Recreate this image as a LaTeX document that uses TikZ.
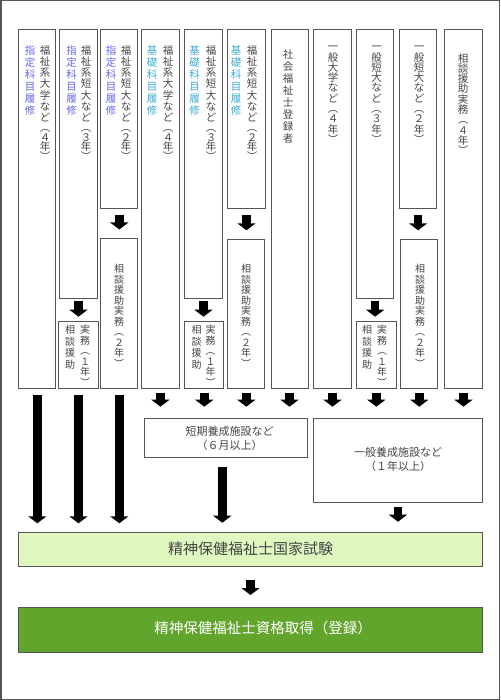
\documentclass[tikz,border=0pt]{standalone}
\usepackage{fontspec}
\setmainfont{Noto Sans CJK JP}
\usetikzlibrary{arrows.meta,calc}
\definecolor{txt}{HTML}{454545}
\definecolor{boxc}{HTML}{555555}
\definecolor{shitei}{HTML}{6868F0}
\definecolor{kiso}{HTML}{3DACD0}
\definecolor{lgreen}{HTML}{E0F8C0}
\definecolor{dgreen}{HTML}{62A52C}
\begin{document}
\begin{tikzpicture}[x=1pt,y=-1pt,
  box/.style={draw=boxc, line width=1pt, fill=white, inner sep=0pt, anchor=north west},
  vt/.style={align=center, inner sep=0pt, anchor=north, text=txt, font=\fontsize{10.5}{11.3}\selectfont},
  vtb/.style={vt, font=\fontsize{10.5}{12}\selectfont},
  vtg/.style={vt, font=\fontsize{10.5}{10.3}\selectfont},
  vts/.style={vt, font=\fontsize{10}{10.5}\selectfont},
  vtw/.style={vt, font=\fontsize{10}{11.5}\selectfont},
  ht/.style={align=center, inner sep=0pt, text=txt, font=\fontsize{11}{13.3}\selectfont},
  blk/.style={line width=8.5pt, black, -{Triangle[width=18pt,length=7pt]}}
]
\useasboundingbox (0,0) rectangle (500,700);
\draw[boxc, line width=1.5pt] (0.75,0.75) rectangle (499.25,699.25);

% columns
\node[box, minimum width=37pt, minimum height=358.7pt] (c1) at (18.3,29.3) {};
\node[box, minimum width=37.4pt, minimum height=269pt] (c2) at (59.3,29.3) {};
\node[box, minimum width=39.4pt, minimum height=67pt] (c2b) at (58.3,321) {};
\node[box, minimum width=37pt, minimum height=179pt] (c3) at (100.3,29.3) {};
\node[box, minimum width=37pt, minimum height=149.3pt] (c3b) at (100.3,238.5) {};
\node[box, minimum width=37.2pt, minimum height=358.7pt] (c4) at (141.3,29.3) {};
\node[box, minimum width=37.4pt, minimum height=269pt] (c5) at (184.3,29.3) {};
\node[box, minimum width=39pt, minimum height=67pt] (c5b) at (184.3,321) {};
\node[box, minimum width=37.4pt, minimum height=179pt] (c6) at (227.3,29.3) {};
\node[box, minimum width=37pt, minimum height=148.7pt] (c6b) at (227.3,239.3) {};
\node[box, minimum width=37pt, minimum height=358.7pt] (c7) at (270.5,29.3) {};
\node[box, minimum width=37.4pt, minimum height=358.7pt] (c8) at (313.3,29.3) {};
\node[box, minimum width=37.3pt, minimum height=269pt] (c9) at (356,29.3) {};
\node[box, minimum width=39.7pt, minimum height=67pt] (c9b) at (356,321) {};
\node[box, minimum width=37.3pt, minimum height=179pt] (c10) at (399,29.3) {};
\node[box, minimum width=37pt, minimum height=148.7pt] (c10b) at (400.3,239.3) {};
\node[box, minimum width=37.5pt, minimum height=358.7pt] (c11) at (444.2,29.3) {};

\node[box, minimum width=163pt, minimum height=39pt] (tanki) at (144.3,418.3) {};
\node[box, minimum width=168.4pt, minimum height=83.4pt] (ippan) at (313.3,418.3) {};
\node[box, fill=lgreen, minimum width=463.4pt, minimum height=34pt] (g1) at (18.3,532.3) {};
\node[box, fill=dgreen, minimum width=463.4pt, minimum height=45pt] (g2) at (18.3,607.3) {};

% vertical texts, upper
\node[vt] (t1a) at (45,45) {福\\祉\\系\\大\\学\\な\\ど\\[-1.6pt]︵\\[-1.6pt]４\\[-1.6pt]年\\[-1.6pt]︶};
\node[vtb, text=shitei] (t1b) at (30,45) {指\\定\\科\\目\\履\\修};
\node[vt] (t2a) at (86,45) {福\\祉\\系\\短\\大\\な\\ど\\[-1.6pt]︵\\[-1.6pt]３\\[-1.6pt]年\\[-1.6pt]︶};
\node[vtb, text=shitei] (t2b) at (71.5,45) {指\\定\\科\\目\\履\\修};
\node[vt] (t3a) at (126,45) {福\\祉\\系\\短\\大\\な\\ど\\[-1.6pt]︵\\[-1.6pt]２\\[-1.6pt]年\\[-1.6pt]︶};
\node[vtb, text=shitei] (t3b) at (111,45) {指\\定\\科\\目\\履\\修};
\node[vt] (t4a) at (168,45) {福\\祉\\系\\大\\学\\な\\ど\\[-1.6pt]︵\\[-1.6pt]４\\[-1.6pt]年\\[-1.6pt]︶};
\node[vtb, text=kiso] (t4b) at (152,45) {基\\礎\\科\\目\\履\\修};
\node[vt] (t5a) at (211,45) {福\\祉\\系\\短\\大\\な\\ど\\[-1.6pt]︵\\[-1.6pt]３\\[-1.6pt]年\\[-1.6pt]︶};
\node[vtb, text=kiso] (t5b) at (194.5,45) {基\\礎\\科\\目\\履\\修};
\node[vt] (t6a) at (252,45) {福\\祉\\系\\短\\大\\な\\ど\\[-1.6pt]︵\\[-1.6pt]２\\[-1.6pt]年\\[-1.6pt]︶};
\node[vtb, text=kiso] (t6b) at (236,45) {基\\礎\\科\\目\\履\\修};
\node[vt, font=\fontsize{10.5}{12}\selectfont] (t7) at (288,49) {社\\会\\福\\祉\\士\\登\\録\\者};
\node[vtg] (t8) at (333,46) {一\\般\\大\\学\\な\\ど\\︵\\４\\年\\︶};
\node[vtg] (t9) at (376.5,46) {一\\般\\短\\大\\な\\ど\\︵\\３\\年\\︶};
\node[vtg] (t10) at (419,46) {一\\般\\短\\大\\な\\ど\\︵\\２\\年\\︶};
\node[vtg] (t11) at (463,53) {相\\談\\援\\助\\実\\務\\︵\\４\\年\\︶};

% vertical texts, lower
\node[vts] (t2c) at (85,325) {実\\務\\︵\\１\\年\\︶};
\node[vtw] (t2d) at (70,325) {相\\談\\援\\助};
\node[vts] (t3c) at (119,264) {相\\談\\援\\助\\実\\務\\︵\\２\\年\\︶};
\node[vts] (t5c) at (210.5,325) {実\\務\\︵\\１\\年\\︶};
\node[vtw] (t5d) at (196.5,325) {相\\談\\援\\助};
\node[vts] (t6c) at (246,264) {相\\談\\援\\助\\実\\務\\︵\\２\\年\\︶};
\node[vts] (t9c) at (382,325) {実\\務\\︵\\１\\年\\︶};
\node[vtw] (t9d) at (367,325) {相\\談\\援\\助};
\node[vts] (t10c) at (420,264) {相\\談\\援\\助\\実\\務\\︵\\２\\年\\︶};

% horizontal texts
\node[ht] (tt) at (229.5,438.5) {短期養成施設など\\（６月以上）};
\node[ht] (ti) at (398,459.5) {一般養成施設など\\（１年以上）};
\node[inner sep=0pt, text=txt, font=\fontsize{15}{15}\selectfont] (tg1) at (250.5,549.3) {精神保健福祉士国家試験};
\node[inner sep=0pt, text=white, font=\fontsize{14.5}{14.5}\selectfont] (tg2) at (263,628.3) {精神保健福祉士資格取得（登録）};

% arrows
\foreach \c in {c1,c2b,c3b}
  \draw[blk, shorten <=6pt, shorten >=9pt] (\c.south) -- (\c.south |- g1.north);
\foreach \c in {c4,c5b,c6b,c7}
  \draw[blk, shorten <=3.7pt, shorten >=11.6pt] (\c.south) -- (\c.south |- tanki.north);
\foreach \c in {c8,c9b,c10b,c11}
  \draw[blk, shorten <=3.7pt, shorten >=11.6pt] (\c.south) -- (\c.south |- ippan.north);
\foreach \a/\b in {c2/c2b,c5/c5b,c9/c9b}
  \draw[blk, shorten <=1.7pt, shorten >=4.3pt] (\a.south) -- (\a.south |- \b.north);
\foreach \a/\b in {c3/c3b,c6/c6b,c10/c10b}
  \draw[blk, shorten <=5.7pt, shorten >=9pt] (\a.south) -- (\a.south |- \b.north);
\draw[blk, shorten <=8.4pt, shorten >=9.6pt] ([xshift=-4pt]tanki.south) -- ([xshift=-4pt]tanki.south |- g1.north);
\draw[blk, shorten <=4.3pt, shorten >=10.6pt] (ippan.south) -- (ippan.south |- g1.north);
\draw[blk, shorten <=13pt, shorten >=12.3pt] (g1.south) -- (g2.north);
\end{tikzpicture}
\end{document}
